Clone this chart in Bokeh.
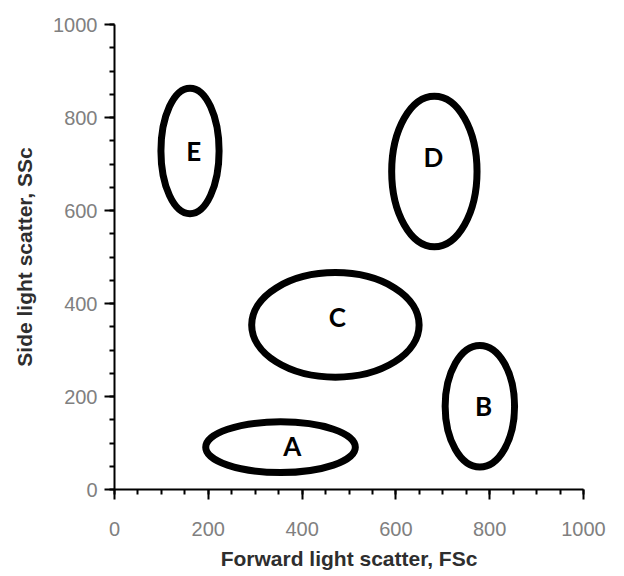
from bokeh.plotting import figure
from bokeh.models import Range1d, FixedTicker, ColumnDataSource
from bokeh.core.properties import value
from bokeh.embed import file_html
from bokeh.resources import INLINE

# Data
groups = ["A", "B", "C", "D", "E"]
center_x = [354, 779, 471, 682, 161]
center_y = [91, 179, 354, 684, 728]
ell_width = [319, 148, 357, 182, 124]
ell_height = [109, 262, 225, 324, 270]
label_x = [379, 787, 475, 680, 169]
label_y = [94, 180, 371, 714, 727]
major_ticks = [0, 200, 400, 600, 800, 1000]
minor_ticks = list(range(0, 1001, 50))

ell_src = ColumnDataSource(dict(x=center_x, y=center_y, w=ell_width, h=ell_height))
lab_src = ColumnDataSource(dict(x=label_x, y=label_y, t=groups))

p = figure(width=608, height=572, output_backend="svg", toolbar_location=None,
           x_range=Range1d(0, 1000), y_range=Range1d(0, 1000),
           min_border_left=114, min_border_right=25, min_border_top=24,
           min_border_bottom=82)
p.outline_line_color = None
p.xgrid.visible = False
p.ygrid.visible = False
p.background_fill_color = "white"
p.border_fill_color = "white"

p.ellipse(x="x", y="y", width="w", height="h", source=ell_src,
          fill_color=None, line_color="black", line_width=7)
p.text(x="x", y="y", text="t", source=lab_src, text_align="center",
       text_baseline="middle", text_font=value("Lato"), text_font_style="bold",
       text_font_size="26px", text_color="black")

for ax in (p.xaxis[0], p.yaxis[0]):
    ax.ticker = FixedTicker(ticks=major_ticks, minor_ticks=minor_ticks)
    ax.axis_line_width = 2
    ax.axis_line_color = "black"
    ax.major_tick_line_width = 2
    ax.major_tick_line_color = "black"
    ax.minor_tick_line_width = 2
    ax.minor_tick_line_color = "black"
    ax.major_tick_out = 10
    ax.major_tick_in = 0
    ax.minor_tick_out = 5
    ax.minor_tick_in = 0
    ax.major_label_text_font = "Liberation Sans"
    ax.major_label_text_font_size = "20px"
    ax.major_label_text_color = "#808080"
    ax.axis_label_text_font = "Liberation Sans"
    ax.axis_label_text_font_style = "bold"
    ax.axis_label_text_font_size = "21px"
    ax.axis_label_text_color = "#2e2e2e"

p.xaxis.axis_label = "Forward light scatter, FSc"
p.yaxis.axis_label = "Side light scatter, SSc"
p.xaxis.major_label_standoff = 22
p.yaxis.major_label_standoff = 7
p.xaxis.axis_label_standoff = 8
p.yaxis.axis_label_standoff = 14

open("out.html", "w").write(file_html(p, INLINE))
